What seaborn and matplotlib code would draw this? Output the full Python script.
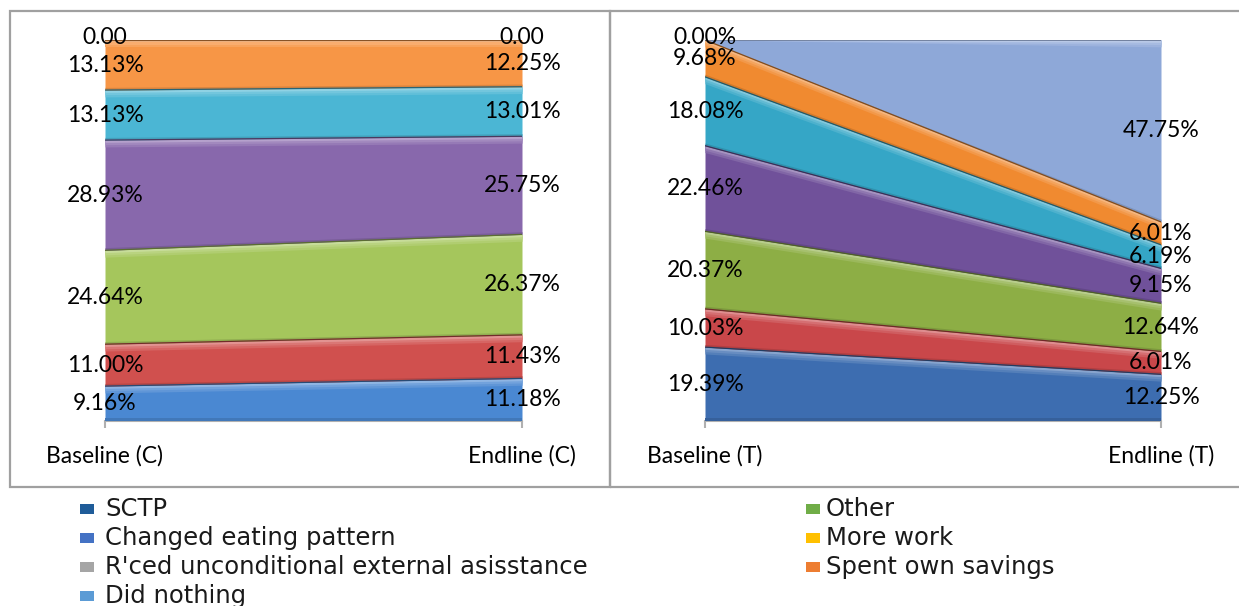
import matplotlib
matplotlib.use("Agg")
import matplotlib.pyplot as plt
from matplotlib.patches import Rectangle
from matplotlib.colors import to_rgb
import numpy as np
import seaborn as sns

# ---- data -------------------------------------------------------------
periods_c = ["Baseline (C)", "Endline (C)"]
periods_t = ["Baseline (T)", "Endline (T)"]

# stacked shares, listed from the bottom band to the top band
control_baseline = [9.16, 11.00, 24.64, 28.93, 13.13, 13.13, 0.00]
control_endline = [11.18, 11.43, 26.37, 25.75, 13.01, 12.25, 0.00]
treat_baseline = [19.39, 10.03, 20.37, 22.46, 18.08, 9.68, 0.00]
treat_endline = [12.25, 6.01, 12.64, 9.15, 6.19, 6.01, 47.75]

control_colors = ["#4A88D2", "#D0504E", "#A5C65C", "#8868AC", "#4BB6D4", "#F79646", "#F2C230"]
treat_colors = ["#3D6DB0", "#C9474A", "#8DAE45", "#70519A", "#35A6C6", "#F08A30", "#8EA8D8"]

legend_labels = ["SCTP", "Changed eating pattern",
                 "R'ced unconditional external asisstance", "Did nothing",
                 "Other", "More work", "Spent own savings"]
legend_colors = ["#1F5C99", "#4472C4", "#A5A5A5", "#5B9BD5",
                 "#70AD47", "#FFC000", "#ED7D31"]

# ---- style ------------------------------------------------------------
sns.set_theme(style="white")
plt.rcParams["font.family"] = ["Lato", "DejaVu Sans"]

W, H = 1239, 606
fig = plt.figure(figsize=(W / 100, H / 100), dpi=100)
fig.patch.set_facecolor("white")


def fx(px):
    return px / W


def fy(py):
    return 1 - py / H


def shade(c, f):
    r = np.array(to_rgb(c))
    if f >= 0:
        return tuple(r + (1 - r) * f)
    return tuple(r * (1 + f))


LABEL_FS = 16.5


def draw_panel(ax, base, end, colors, periods, bare_zero):
    x = [0, 1]
    lower = np.array([0.0, 0.0])
    for i, (b, e) in enumerate(zip(base, end)):
        vals = np.array([b, e])
        upper = lower + vals
        if b > 0 or e > 0:
            c = colors[i]
            ax.fill_between(x, lower, upper, color=c, lw=0, zorder=2)
            # soft bevel: a few light steps just under the top edge
            steps = [(1.8, 0.12), (1.2, 0.22), (0.6, 0.38)]
            for depth, f in steps:
                hh = np.minimum(depth, vals * 0.4)
                ax.fill_between(x, upper - hh, upper, color=shade(c, f), lw=0, zorder=3)
            # slightly darker rim along the bottom of each band
            bh = np.minimum(0.7, vals * 0.2)
            ax.fill_between(x, lower, lower + bh, color=shade(c, -0.12), lw=0, zorder=3)
            sns.lineplot(x=x, y=list(upper), ax=ax, color=shade(c, -0.45),
                         lw=0.9, zorder=4, legend=False)
        for xi, v, lo in zip(x, (b, e), lower):
            if v == 0:
                txt = f"{v:.2f}" if bare_zero else f"{v:.2f}%"
                ymid = lo + 0.6
            else:
                txt = f"{v:.2f}%"
                ymid = lo + v / 2
            ax.text(xi, ymid, txt, ha="center", va="center", fontsize=LABEL_FS,
                    color="black", zorder=6, clip_on=False)
        lower = upper

    ax.set_xlim(0, 1)
    ax.set_ylim(0, 100)
    ax.set_yticks([])
    ax.set_xticks([0, 1])
    ax.set_xticklabels(periods, fontsize=LABEL_FS)
    for s in ("left", "right", "top"):
        ax.spines[s].set_visible(False)
    ax.spines["bottom"].set_color("#B0B0B0")
    ax.spines["bottom"].set_linewidth(1.5)
    ax.tick_params(axis="x", bottom=True, length=5, width=1.5, color="#B0B0B0",
                   pad=12, labelcolor="black")
    ax.set_facecolor("none")
    ax.grid(False)


ax_c = fig.add_axes([fx(105), fy(421), fx(522) - fx(105), fy(40) - fy(421)])
ax_t = fig.add_axes([fx(705), fy(421), fx(1161) - fx(705), fy(40) - fy(421)])

draw_panel(ax_c, control_baseline, control_endline, control_colors, periods_c, True)
draw_panel(ax_t, treat_baseline, treat_endline, treat_colors, periods_t, False)

# panel frames
frame_kw = dict(transform=fig.transFigure, fill=False, ec="#A0A0A0", lw=1.6, zorder=0)
fig.add_artist(Rectangle((fx(10), fy(487)), fx(610) - fx(10), fy(11) - fy(487), **frame_kw))
fig.add_artist(Rectangle((fx(610), fy(487)), fx(1250) - fx(610), fy(11) - fy(487), **frame_kw))

# legend in two columns below the panels
rows = [509, 538, 567, 596]
cols = [(80, 105), (806, 826)]
for k, (lab, col) in enumerate(zip(legend_labels, legend_colors)):
    ci, ri = (0, k) if k < 4 else (1, k - 4)
    sx, tx = cols[ci]
    ry = rows[ri]
    fig.add_artist(Rectangle((fx(sx), fy(ry + 5)), fx(14), 10 / H,
                             transform=fig.transFigure, color=col, lw=0))
    fig.text(fx(tx), fy(ry), lab, ha="left", va="center", fontsize=17.5,
             family=["DejaVu Sans"], color="#1A1A1A")

fig.savefig("out.png", dpi=100, facecolor="white")
